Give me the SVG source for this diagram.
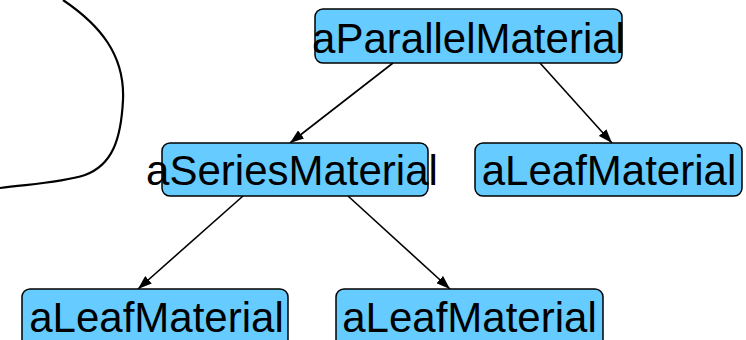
<svg xmlns="http://www.w3.org/2000/svg" width="746" height="340" viewBox="0 0 746 340">
  <style>
    .box { fill: #66ccff; stroke: #000; stroke-width: 1.5; }
    .lbl { font-family: "Liberation Sans", Arial, sans-serif; font-size: 42px; fill: #000; text-anchor: middle; }
    .edge { stroke: #000; stroke-width: 1.6; fill: none; marker-end: url(#arrow); }
  </style>
  <defs>
    <marker id="arrow" viewBox="0 0 14 10" refX="14" refY="5" markerWidth="14" markerHeight="10" markerUnits="userSpaceOnUse" orient="auto">
      <path d="M0,0 L14,5 L0,10 Z" fill="#000"/>
    </marker>
  </defs>

  <!-- free-hand curve at the left edge -->
  <path d="M63,0 C100,25 125,55 123,100 C121,140 112,165 85,175 C60,183 30,184 0,188" fill="none" stroke="#000" stroke-width="2.2"/>

  <g id="connectors">
    <line class="edge" x1="393" y1="63" x2="290" y2="143"/>
    <line class="edge" x1="540" y1="63" x2="612" y2="143"/>
    <line class="edge" x1="243" y1="196" x2="138" y2="289"/>
    <line class="edge" x1="348" y1="196" x2="450" y2="289"/>
  </g>

  <g id="aParallelMaterial">
    <rect class="box" x="315" y="9" width="307" height="54" rx="8"/>
    <text class="lbl" x="468.5" y="53">aParallelMaterial</text>
  </g>
  <g id="aSeriesMaterial">
    <rect class="box" x="162" y="143" width="266" height="53" rx="8"/>
    <text class="lbl" x="292" y="185">aSeriesMaterial</text>
  </g>
  <g id="aLeafMaterial1">
    <rect class="box" x="475" y="143" width="267" height="53" rx="8"/>
    <text class="lbl" x="609" y="185">aLeafMaterial</text>
  </g>
  <g id="aLeafMaterial2">
    <rect class="box" x="22" y="289" width="266" height="60" rx="8"/>
    <text class="lbl" x="156.5" y="332">aLeafMaterial</text>
  </g>
  <g id="aLeafMaterial3">
    <rect class="box" x="336" y="289" width="267" height="60" rx="8"/>
    <text class="lbl" x="469.5" y="332">aLeafMaterial</text>
  </g>
</svg>
